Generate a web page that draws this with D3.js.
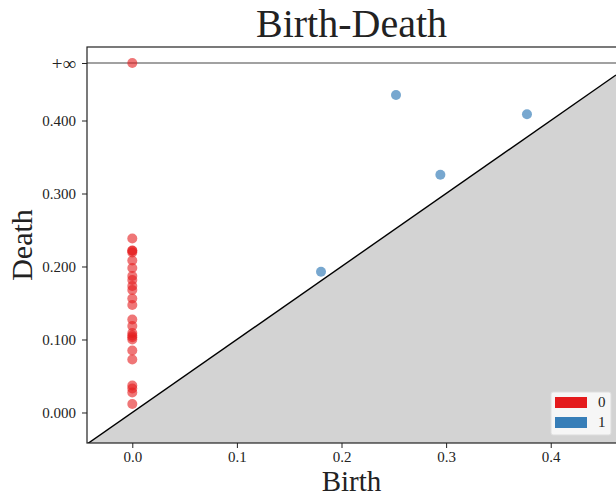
<!DOCTYPE html>
<html>
	<head>
		<meta charset="utf-8">
		<title>Birth-Death</title>
		<style>
			body { margin: 0; background: #fff; }
			text { font-family: "Liberation Serif", "DejaVu Serif", serif; fill: #222; }
			.tick text { font-size: 15px; }
		</style>
		<script src="https://d3js.org/d3.v7.min.js"></script>
	</head>
	<body>
		<div id="chart"></div>
		<script>
			// dimension 0 pairs (red), last one never dies
			var birth0 = [0, 0, 0, 0, 0, 0, 0, 0, 0, 0, 0, 0, 0, 0, 0, 0, 0, 0, 0, 0, 0, 0, 0, 0, 0];
			var death0 = [0.2384, 0.2219, 0.2215, 0.2192, 0.2082, 0.1979, 0.1870, 0.1815, 0.1733, 0.1678,
				0.1562, 0.1473, 0.1274, 0.1185, 0.1089, 0.1055, 0.1030, 0.1000, 0.0849, 0.0726,
				0.0370, 0.0329, 0.0274, 0.0116, Infinity];
			// dimension 1 pairs (blue)
			var birth1 = [0.1804, 0.2521, 0.2945, 0.3773];
			var death1 = [0.1929, 0.4349, 0.3258, 0.4085];

			var xTicks = [0.0, 0.1, 0.2, 0.3, 0.4];
			var yTicks = [0.0, 0.1, 0.2, 0.3, 0.4];
			var dims = ["0", "1"];

			var infValue = 0.4788;
			var xMin = -0.0433, xMax = 0.4624;
			var yMin = -0.0418, yMax = 0.5007;

			var width = 616, height = 502;
			var margin = {top: 47, right: 0, bottom: 59, left: 87};

			var x = d3.scaleLinear()
			.domain([xMin, xMax])
			.range([margin.left, width - margin.right]);

			var y = d3.scaleLinear()
			.domain([yMin, yMax])
			.range([height - margin.bottom, margin.top]);

			var color = d3.scaleOrdinal()
			.domain(dims)
			.range(["#e41a1c", "#377eb8"]);

			var svg = d3.select("#chart").append("svg")
			.attr("width", width)
			.attr("height", height);

			svg.append("clipPath")
			.attr("id", "clip")
			.append("rect")
			.attr("x", x(xMin))
			.attr("y", y(yMax))
			.attr("width", x(xMax) - x(xMin))
			.attr("height", y(yMin) - y(yMax));

			var plot = svg.append("g").attr("clip-path", "url(#clip)");

			// shaded area under the diagonal
			var diag = [xMin, xMax];
			plot.append("path")
			.datum(diag)
			.attr("fill", "#d3d3d3")
			.attr("d", d3.area()
				.x(function(d) { return x(d); })
				.y0(y(yMin))
				.y1(function(d) { return y(d); }));

			plot.append("path")
			.datum(diag)
			.attr("fill", "none")
			.attr("stroke", "#000")
			.attr("stroke-width", 1.4)
			.attr("d", d3.line()
				.x(function(d) { return x(d); })
				.y(function(d) { return y(d); }));

			// infinity line
			plot.append("line")
			.attr("x1", x(xMin))
			.attr("x2", x(xMax))
			.attr("y1", y(infValue))
			.attr("y2", y(infValue))
			.attr("stroke", "#444")
			.attr("stroke-width", 1.2);

			var points = [];
			birth0.forEach(function(b, i) { points.push({dim: "0", b: b, d: death0[i]}); });
			birth1.forEach(function(b, i) { points.push({dim: "1", b: b, d: death1[i]}); });

			plot.append("g")
			.selectAll("circle")
			.data(points)
			.enter().append("circle")
			.attr("cx", function(d) { return x(d.b); })
			.attr("cy", function(d) { return y(isFinite(d.d) ? d.d : infValue); })
			.attr("r", 5)
			.attr("fill", function(d) { return color(d.dim); })
			.attr("fill-opacity", function(d) { return d.dim === "1" ? 0.68 : 0.6; });

			// axes
			var xAxis = d3.axisBottom(x)
			.tickValues(xTicks)
			.tickSize(5)
			.tickPadding(3)
			.tickFormat(d3.format(".1f"));

			var yAxis = d3.axisLeft(y)
			.tickValues(yTicks.concat([infValue]))
			.tickSize(5)
			.tickPadding(6)
			.tickFormat(function(d) { return d === infValue ? "+\u221e" : d3.format(".3f")(d); });

			svg.append("g")
			.attr("class", "x axis")
			.attr("transform", "translate(0," + y(yMin) + ")")
			.call(xAxis)
			.call(function(g) { g.select(".domain").remove(); });

			svg.append("g")
			.attr("class", "y axis")
			.attr("transform", "translate(" + x(xMin) + ",0)")
			.call(yAxis)
			.call(function(g) { g.select(".domain").remove(); });

			svg.selectAll(".tick line").attr("stroke", "#222");
			svg.selectAll(".tick text").attr("font-family", null).attr("fill", "#222");
			svg.selectAll(".y.axis .tick text")
			.filter(function(d) { return d === infValue; })
			.style("font-size", "19px");

			// frame
			svg.append("rect")
			.attr("x", x(xMin))
			.attr("y", y(yMax))
			.attr("width", x(xMax) - x(xMin) + 2)
			.attr("height", y(yMin) - y(yMax))
			.attr("fill", "none")
			.attr("stroke", "#222")
			.attr("stroke-width", 1.2);

			// titles
			svg.append("text")
			.attr("x", (x(xMin) + x(xMax)) / 2)
			.attr("y", 37)
			.attr("text-anchor", "middle")
			.style("font-size", "40px")
			.text("Birth-Death");

			svg.append("text")
			.attr("x", (x(xMin) + x(xMax)) / 2)
			.attr("y", 491)
			.attr("text-anchor", "middle")
			.style("font-size", "29px")
			.text("Birth");

			svg.append("text")
			.attr("transform", "translate(32," + (y(yMin) + y(yMax)) / 2 + ") rotate(-90)")
			.attr("text-anchor", "middle")
			.style("font-size", "30px")
			.text("Death");

			// legend
			var legend = svg.append("g")
			.attr("class", "legend")
			.attr("transform", "translate(551,392)");

			legend.append("rect")
			.attr("width", 60)
			.attr("height", 43)
			.attr("rx", 2)
			.attr("fill", "#f6f6f6")
			.attr("stroke", "#ddd");

			legend.selectAll(".swatch")
			.data(dims)
			.enter().append("rect")
			.attr("class", "swatch")
			.attr("x", 4)
			.attr("y", function(d, i) { return 5 + i * 20; })
			.attr("width", 32)
			.attr("height", 11)
			.attr("fill", function(d) { return color(d); });

			legend.selectAll(".label")
			.data(dims)
			.enter().append("text")
			.attr("class", "label")
			.attr("x", 47)
			.attr("y", function(d, i) { return 15 + i * 20; })
			.style("font-size", "15px")
			.text(function(d) { return d; });
		</script>
	</body>
</html>
